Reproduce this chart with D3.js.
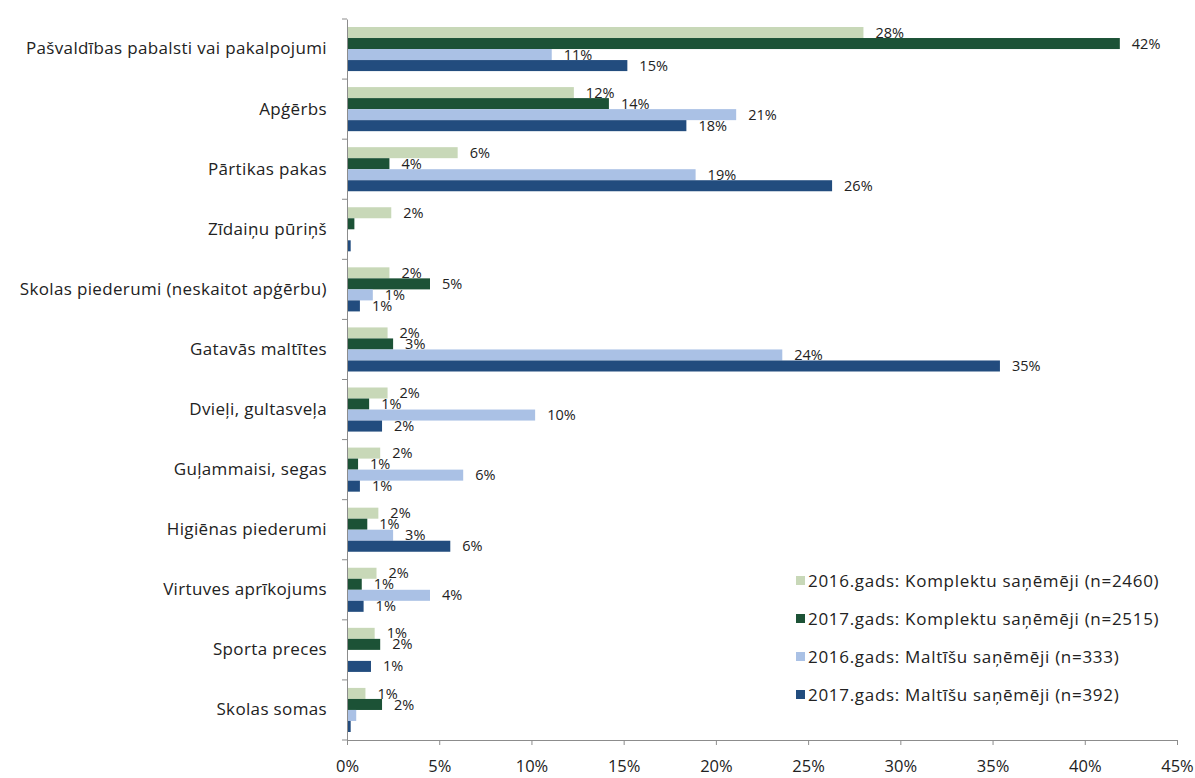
<!DOCTYPE html>
<html><head><meta charset="utf-8">
<script src="https://cdn.jsdelivr.net/npm/d3@7"></script>
<style>
html,body{margin:0;padding:0;background:#fff;}
svg text{font-family:"Open Sans",sans-serif;fill:#222;}
</style></head>
<body>
<svg id="chart" width="1195" height="778"></svg>
<script>
const categories = ["Pašvaldības pabalsti vai pakalpojumi","Apģērbs","Pārtikas pakas","Zīdaiņu pūriņš","Skolas piederumi (neskaitot apģērbu)","Gatavās maltītes","Dvieļi, gultasveļa","Guļammaisi, segas","Higiēnas piederumi","Virtuves aprīkojums","Sporta preces","Skolas somas"];
const seriesNames = ["2016.gads: Komplektu saņēmēji (n=2460)","2017.gads: Komplektu saņēmēji (n=2515)","2016.gads: Maltīšu saņēmēji (n=333)","2017.gads: Maltīšu saņēmēji (n=392)"];
const seriesColors = ["#c8d8b8","#1c5236","#aac1e5","#224c7e"];
// values (%)
const kompl2016 = [28.0,12.3,6.0,2.4,2.3,2.2,2.2,1.8,1.7,1.6,1.5,1.0];
const kompl2017 = [41.9,14.2,2.3,0.4,4.5,2.5,1.2,0.6,1.1,0.8,1.8,1.9];
const malt2016  = [11.1,21.1,18.9,0,1.4,23.6,10.2,6.3,2.5,4.5,0,0.5];
const malt2017  = [15.2,18.4,26.3,0.2,0.7,35.4,1.9,0.7,5.6,0.9,1.3,0.2];
// data labels as printed
const labK2016 = ["28%","12%","6%","2%","2%","2%","2%","2%","2%","2%","1%","1%"];
const labK2017 = ["42%","14%","4%","","5%","3%","1%","1%","1%","1%","2%","2%"];
const labM2016 = ["11%","21%","19%","","1%","24%","10%","6%","3%","4%","",""];
const labM2017 = ["15%","18%","26%","","1%","35%","2%","1%","6%","1%","1%",""];
const xTicks = [0,5,10,15,20,25,30,35,40,45];

const values = [kompl2016,kompl2017,malt2016,malt2017];
const labels = [labK2016,labK2017,labM2016,labM2017];

const svg = d3.select("#chart");
const x = d3.scaleLinear().domain([0,45]).range([347,1177]);
const y = d3.scaleBand().domain(categories).range([19,740]).paddingInner(0).paddingOuter(0);
const ys = d3.scaleBand().domain(d3.range(4)).range([8, y.bandwidth()-8]).padding(0);

// bars
const g = svg.append("g");
categories.forEach((c,ci)=>{
  values.forEach((arr,si)=>{
    const v = arr[ci];
    const y0 = y(c)+ys(si);
    if (v>0) {
      g.append("rect").attr("x",x(0)).attr("y",y0)
       .attr("width",x(v)-x(0)).attr("height",ys.bandwidth())
       .attr("fill",seriesColors[si]);
    }
  });
});
const tg = svg.append("g");
categories.forEach((c,ci)=>{
  values.forEach((arr,si)=>{
    const v = arr[ci];
    const y0 = y(c)+ys(si);
    const t = labels[si][ci];
    if (t) {
      tg.append("text").attr("x",x(v)+12).attr("y",y0+ys.bandwidth()/2)
       .attr("dy","0.35em").attr("font-size",14.5).text(t);
    }
  });
});

// y axis
const yAxis = d3.axisLeft(y).tickSize(0).tickPadding(20);
const ya = svg.append("g").attr("transform",`translate(${x(0)},0)`).call(yAxis);
ya.select(".domain").attr("stroke","#8c8c8c");
ya.selectAll("text").attr("font-size",17).attr("fill","#222")
  .style("font-family","'Open Sans',sans-serif").style("letter-spacing","0.35px");
// y band separator ticks
svg.append("g").selectAll("line").data(categories.concat(["_end"]))
  .join("line")
  .attr("x1",x(0)-5).attr("x2",x(0))
  .attr("y1",(d,i)=>19+i*y.step()).attr("y2",(d,i)=>19+i*y.step())
  .attr("stroke","#8c8c8c");

// x axis
const xAxis = d3.axisBottom(x).tickValues(xTicks).tickFormat(d=>d+"%").tickSizeInner(5).tickSizeOuter(0).tickPadding(15);
const xa = svg.append("g").attr("transform","translate(0,740)").call(xAxis);
xa.select(".domain").attr("stroke","#8c8c8c");
xa.selectAll(".tick line").attr("stroke","#8c8c8c");
xa.selectAll("text").attr("font-size",16.5).attr("fill","#222").style("font-family","'Open Sans',sans-serif");

// legend
const lg = svg.append("g");
seriesNames.forEach((n,i)=>{
  const yy = 581 + i*38;
  lg.append("rect").attr("x",796).attr("y",yy-5).attr("width",9).attr("height",9).attr("fill",seriesColors[i]);
  lg.append("text").attr("x",808).attr("y",yy).attr("dy","0.35em").attr("font-size",17)
    .style("letter-spacing","0.7px").text(n);
});
</script>
</body></html>
